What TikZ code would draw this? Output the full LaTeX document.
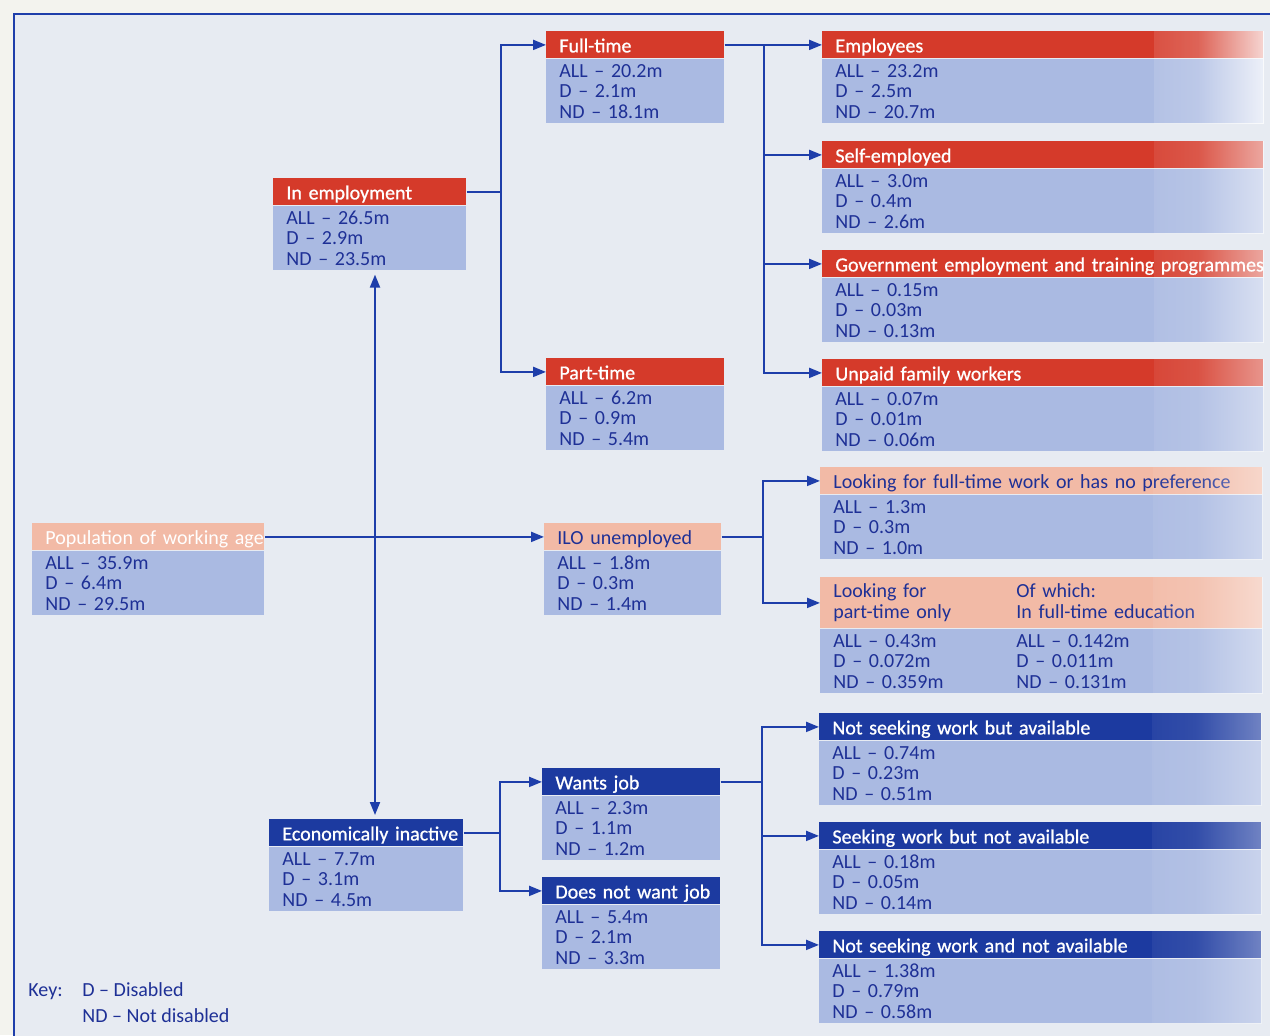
\documentclass[tikz,border=0pt]{standalone}
\usepackage{fontspec}
\setmainfont{Carlito}
\newfontfamily\hdrwfont{Carlito}[FakeBold=0.8]
\usetikzlibrary{arrows.meta,fadings}
\pgfdeclarehorizontalshading{glareshade}{100bp}{color(0bp)=(black); color(45bp)=(black!75); color(78bp)=(black!0); color(90bp)=(black!10); color(100bp)=(black!55)}
\pgfdeclarefading{glarefade}{\pgfuseshading{glareshade}}
\definecolor{outerbg}{RGB}{243,243,238}
\definecolor{innerbg}{RGB}{231,235,242}
\definecolor{bodyc}{RGB}{170,186,226}
\definecolor{redh}{RGB}{213,58,42}
\definecolor{salh}{RGB}{242,186,166}
\definecolor{blueh}{RGB}{28,58,160}
\definecolor{txtb}{RGB}{30,48,150}
\definecolor{linec}{RGB}{30,62,170}
\tikzset{
  hdr/.style={anchor=north west, inner xsep=6.5pt, inner ysep=0pt, align=left,
    font=\fontsize{10}{10.25}\selectfont, minimum height=13.5pt,
    text height=8.5pt, text depth=1pt},
  whdr/.style={hdr, text=white, font=\hdrwfont\fontsize{10}{10.25}\selectfont},
  redhdr/.style={whdr, fill=redh},
  salhdr/.style={hdr, fill=salh, text=txtb},
  salwhdr/.style={hdr, fill=salh, text=white},
  bluehdr/.style={whdr, fill=blueh},
  bodybox/.style={anchor=north west, fill=bodyc, text=txtb, inner xsep=6.5pt,
    inner ysep=0pt, align=left, font=\fontsize{10}{10.25}\selectfont,
    minimum height=32pt},
  arr/.style={draw=linec, line width=1pt, -{Triangle[length=6.5pt,width=5pt]}},
  darr/.style={draw=linec, line width=1pt,
    {Triangle[length=6.5pt,width=5pt]}-{Triangle[length=6.5pt,width=5pt]}},
  keytxt/.style={anchor=base west, text=txtb, inner sep=0pt,
    font=\fontsize{10}{10.25}\selectfont},
}
% #1 name, #2 x, #3 y, #4 width (px), #5 header style, #6 header, #7 body
\newcommand\mkbox[7]{%
  \pgfmathsetmacro\boxtw{#4*0.5-13}%
  \node[#5, text width=\boxtw pt] (#1) at (#2,#3) {#6};
  \node[bodybox, text width=\boxtw pt] (#1b) at (#1.south west) {#7};
}
\newcommand\glare[2]{%
  \fill[white, path fading=glarefade, opacity=#2] ([xshift=-55pt]#1.north east) rectangle (#1b.south east);
}
\begin{document}
\begin{tikzpicture}[x=0.5pt,y=-0.5pt]
\path[use as bounding box] (0,0) rectangle (1270,1035);
\clip (0,0) rectangle (1270,1035);
\fill[outerbg] (0,0) rectangle (1270,1035);
\filldraw[fill=innerbg, draw=linec, line width=0.7pt] (14,14) rectangle (1300,1060);

% left column
\mkbox{pop}{32}{523}{232}{salwhdr}{\mbox{Population of working age}}{ALL – 35.9m\\D – 6.4m\\ND – 29.5m}
\mkbox{inemp}{273}{178}{193}{redhdr}{\mbox{In employment}}{ALL – 26.5m\\D – 2.9m\\ND – 23.5m}
\mkbox{inact}{269}{819}{194}{bluehdr}{\mbox{Economically inactive}}{ALL – 7.7m\\D – 3.1m\\ND – 4.5m}

% middle column
\mkbox{ft}{546}{31}{178}{redhdr}{\mbox{Full-time}}{ALL – 20.2m\\D – 2.1m\\ND – 18.1m}
\mkbox{pt}{546}{358}{178}{redhdr}{\mbox{Part-time}}{ALL – 6.2m\\D – 0.9m\\ND – 5.4m}
\mkbox{ilo}{544}{523}{177}{salhdr}{\mbox{ILO unemployed}}{ALL – 1.8m\\D – 0.3m\\ND – 1.4m}
\mkbox{wj}{542}{768}{178}{bluehdr}{\mbox{Wants job}}{ALL – 2.3m\\D – 1.1m\\ND – 1.2m}
\mkbox{dnwj}{542}{877}{178}{bluehdr}{\mbox{Does not want job}}{ALL – 5.4m\\D – 2.1m\\ND – 3.3m}

% right column
\mkbox{emp}{822}{31}{441}{redhdr}{\mbox{Employees}}{ALL – 23.2m\\D – 2.5m\\ND – 20.7m}
\mkbox{self}{822}{141}{441}{redhdr}{\mbox{Self-employed}}{ALL – 3.0m\\D – 0.4m\\ND – 2.6m}
\mkbox{gov}{822}{250}{441}{redhdr}{\mbox{Government employment and training programmes}}{ALL – 0.15m\\D – 0.03m\\ND – 0.13m}
\mkbox{unp}{822}{359}{441}{redhdr}{\mbox{Unpaid family workers}}{ALL – 0.07m\\D – 0.01m\\ND – 0.06m}
\mkbox{lft}{820}{467}{442}{salhdr}{\mbox{Looking for full-time work or has no preference}}{ALL – 1.3m\\D – 0.3m\\ND – 1.0m}
\mkbox{lpt}{820}{577}{442}{salhdr, minimum height=25.5pt, text height=, text depth=}{\makebox[91.5pt][l]{Looking for}Of which:\\\makebox[91.5pt][l]{part-time only}In full-time education}{\makebox[91.5pt][l]{ALL – 0.43m}ALL – 0.142m\\\makebox[91.5pt][l]{D – 0.072m}D – 0.011m\\\makebox[91.5pt][l]{ND – 0.359m}ND – 0.131m}
\mkbox{nsa}{819}{713}{442}{bluehdr}{\mbox{Not seeking work but available}}{ALL – 0.74m\\D – 0.23m\\ND – 0.51m}
\mkbox{swna}{819}{822}{442}{bluehdr}{\mbox{Seeking work but not available}}{ALL – 0.18m\\D – 0.05m\\ND – 0.14m}
\mkbox{nsna}{819}{931}{442}{bluehdr}{\mbox{Not seeking work and not available}}{ALL – 1.38m\\D – 0.79m\\ND – 0.58m}

% glare on the right edge
\glare{emp}{0.85}
\glare{self}{0.6}
\glare{gov}{0.6}
\glare{unp}{0.5}
\glare{lft}{0.45}
\glare{lpt}{0.5}
\glare{nsa}{0.4}
\glare{swna}{0.4}
\glare{nsna}{0.4}

% connectors
\coordinate (vx) at (375,537);
\draw[arr] (pop.east) -- (ilo.west);
\draw[darr, shorten <=2pt, shorten >=2pt] (inempb.south -| vx) -- (inact.north -| vx);

\draw[arr] (inemp.east) -- ++(34,0) |- (ft.west);
\draw[arr] (inemp.east) -- ++(34,0) |- (pt.west);

\draw[arr] (ft.east) -- (emp.west);
\draw[arr] (ft.east) -- ++(39,0) |- (self.west);
\draw[arr] (ft.east) -- ++(39,0) |- (gov.west);
\draw[arr] (ft.east) -- ++(39,0) |- (unp.west);

\draw[arr] (ilo.east) -- ++(41,0) |- (lft.west);
\draw[arr] (ilo.east) -- ++(41,0) |- (lpt.west);

\draw[arr] (inact.east) -- ++(36,0) |- (wj.west);
\draw[arr] (inact.east) -- ++(36,0) |- (dnwj.west);

\draw[arr] (wj.east) -- ++(41,0) |- (nsa.west);
\draw[arr] (wj.east) -- ++(41,0) |- (swna.west);
\draw[arr] (wj.east) -- ++(41,0) |- (nsna.west);

% key
\node[keytxt] (key) at (28,996) {Key:};
\node[keytxt] (keyd) at (82,996) {D – Disabled};
\node[keytxt] (keynd) at (82,1022) {ND – Not disabled};
\end{tikzpicture}
\end{document}
